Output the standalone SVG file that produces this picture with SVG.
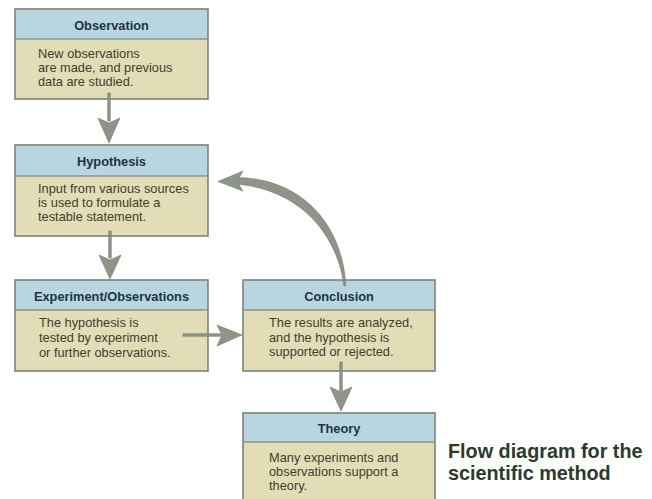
<svg xmlns="http://www.w3.org/2000/svg" width="652" height="499" viewBox="0 0 652 499">
<style>
.hd{fill:#b8d6e0;}
.bd{fill:#e2ddb6;}
.frame{fill:none;stroke:#7f817a;stroke-width:1.6;}
.div{stroke:#6f726c;stroke-width:1.2;}
.ht{font-family:"Liberation Sans",Arial,sans-serif;font-weight:bold;font-size:12.8px;fill:#1f3440;text-anchor:middle;}
.bt{font-family:"Liberation Sans",Arial,sans-serif;font-size:12.8px;fill:#3c3f2e;}
.arr{fill:#8e9488;stroke:#747a70;stroke-width:0.6;}
.title{font-family:"Liberation Sans",Arial,sans-serif;font-weight:bold;font-size:19.8px;fill:#2c3a2c;}
</style>
<rect width="652" height="499" fill="#ffffff"/>

<g id="observation">
  <rect class="hd" x="15" y="9" width="193" height="30"/>
  <rect class="bd" x="15" y="39" width="193" height="60"/>
  <line class="div" x1="15" y1="39" x2="208" y2="39"/>
  <rect class="frame" x="15" y="9" width="193" height="90"/>
  <text class="ht" x="111.5" y="29.5">Observation</text>
  <text class="bt" x="38" y="58">New observations</text>
  <text class="bt" x="38" y="72">are made, and previous</text>
  <text class="bt" x="38" y="86">data are studied.</text>
</g>

<g id="hypothesis">
  <rect class="hd" x="15" y="145" width="193" height="31"/>
  <rect class="bd" x="15" y="176" width="193" height="60"/>
  <line class="div" x1="15" y1="176" x2="208" y2="176"/>
  <rect class="frame" x="15" y="145" width="193" height="91"/>
  <text class="ht" x="111.5" y="165.5">Hypothesis</text>
  <text class="bt" x="38" y="193">Input from various sources</text>
  <text class="bt" x="38" y="207">is used to formulate a</text>
  <text class="bt" x="38" y="221">testable statement.</text>
</g>

<g id="experiment">
  <rect class="hd" x="15" y="280" width="193" height="30"/>
  <rect class="bd" x="15" y="310" width="193" height="61"/>
  <line class="div" x1="15" y1="310" x2="208" y2="310"/>
  <rect class="frame" x="15" y="280" width="193" height="91"/>
  <text class="ht" x="111.5" y="301">Experiment/Observations</text>
  <text class="bt" x="39" y="327">The hypothesis is</text>
  <text class="bt" x="39" y="342">tested by experiment</text>
  <text class="bt" x="39" y="357">or further observations.</text>
</g>

<g id="conclusion">
  <rect class="hd" x="243" y="280" width="192" height="30"/>
  <rect class="bd" x="243" y="310" width="192" height="61"/>
  <line class="div" x1="243" y1="310" x2="435" y2="310"/>
  <rect class="frame" x="243" y="280" width="192" height="91"/>
  <text class="ht" x="339" y="301">Conclusion</text>
  <text class="bt" x="269" y="327">The results are analyzed,</text>
  <text class="bt" x="269" y="342">and the hypothesis is</text>
  <text class="bt" x="269" y="356">supported or rejected.</text>
</g>

<g id="theory">
  <rect class="hd" x="243" y="413" width="192" height="29"/>
  <rect class="bd" x="243" y="442" width="192" height="62"/>
  <line class="div" x1="243" y1="442" x2="435" y2="442"/>
  <rect class="frame" x="243" y="413" width="192" height="91"/>
  <text class="ht" x="339" y="433">Theory</text>
  <text class="bt" x="269" y="462">Many experiments and</text>
  <text class="bt" x="269" y="476">observations support a</text>
  <text class="bt" x="269" y="490">theory.</text>
</g>

<g id="connectors">
  <!-- Observation -> Hypothesis -->
  <rect class="arr" x="107.8" y="93" width="2.4" height="28"/>
  <polygon class="arr" points="98,118 109,123 120,118 109,143"/>
  <!-- Hypothesis -> Experiment -->
  <rect class="arr" x="108.8" y="231" width="2.4" height="27"/>
  <polygon class="arr" points="99,255 110,260 121,255 110,279"/>
  <!-- Experiment -> Conclusion -->
  <rect class="arr" x="183" y="333.8" width="38" height="2.4"/>
  <polygon class="arr" points="217,325 222,335 217,346 242,335"/>
  <!-- Conclusion -> Theory -->
  <rect class="arr" x="339.8" y="362" width="2.4" height="29"/>
  <polygon class="arr" points="330,387 341,392 352,387 341,411"/>
  <!-- Conclusion -> Hypothesis (curved) -->
  <path class="arr" d="M345.8,286 C343,226 303,178 236,177.5 L236,184 C298,189 337,232 344,286 Z"/>
  <polygon class="arr" points="218,181.5 243,171 237,181.5 243,191"/>
</g>

<g id="caption">
  <text class="title" x="448" y="458">Flow diagram for the</text>
  <text class="title" x="448" y="480">scientific method</text>
</g>
</svg>
